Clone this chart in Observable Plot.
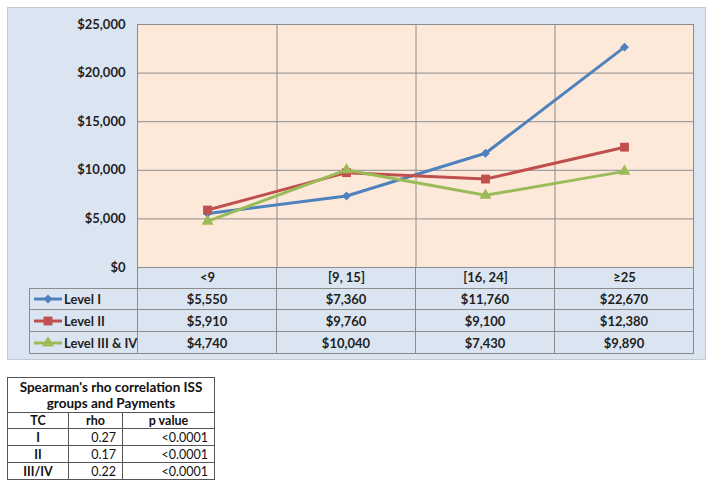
<!DOCTYPE html>
<html>
<head>
<meta charset="utf-8">
<script src="https://cdn.jsdelivr.net/npm/d3@7"></script>
<script src="https://cdn.jsdelivr.net/npm/@observablehq/plot@0.6"></script>
<style>
  html, body { margin: 0; padding: 0; background: #ffffff; }
  #wrap { position: relative; width: 714px; height: 487px; overflow: hidden; font-family: Lato, "Open Sans", sans-serif; color: #1f1f1f; }
  #box { position: absolute; left: 7px; top: 7px; width: 697px; height: 351px; background: #dbe5f1; border: 1px solid #c3cad3; }
  .cell { position: absolute; box-sizing: border-box; display: flex; align-items: center; justify-content: center; font-size: 13px; font-weight: bold; white-space: nowrap; }
  #plot { position: absolute; left: 0; top: 0; }
  .sp { position: absolute; box-sizing: border-box; display: flex; align-items: center; font-size: 12.5px; white-space: nowrap; color: #111; }
</style>
</head>
<body>
<div id="wrap">
  <div id="box"></div>
  <div id="dtable"></div>
  <div id="plot"></div>
  <div id="stable"></div>
</div>
<script>
// ---- data ----
const categories = ["<9", "[9, 15]", "[16, 24]", "≥25"];
const seriesNames = ["Level I", "Level II", "Level III & IV"];
const levelI = [5550, 7360, 11760, 22670];
const levelII = [5910, 9760, 9100, 12380];
const levelIIIIV = [4740, 10040, 7430, 9890];
const seriesColors = ["#4f81bd", "#c0504d", "#9bbb59"];
const seriesSymbols = ["diamond2", "square", "triangle"];
const yTicks = [0, 5000, 10000, 15000, 20000, 25000];

const spearmanTitle = "Spearman's rho correlation ISS groups and Payments";
const spearmanHeaders = ["TC", "rho", "p value"];
const spearmanGroups = ["I", "II", "III/IV"];
const spearmanRho = ["0.27", "0.17", "0.22"];
const spearmanP = ["<0.0001", "<0.0001", "<0.0001"];

// ---- build ----
const seriesValues = [levelI, levelII, levelIIIIV];
const rows = [];
seriesNames.forEach((s, si) => categories.forEach((c, ci) => rows.push({series: s, cat: c, value: seriesValues[si][ci]})));
const fmt = d => "$" + d3.format(",")(d);

const W = 714, H = 289, ML = 137, MR = 21, MT = 24, MB = 22;
const step = (W - ML - MR) / categories.length;
const grid = "#8c8c8c";
const rSizes = [4, 5, 4.4];

const chart = Plot.plot({
  width: W, height: H,
  marginLeft: ML, marginRight: MR, marginTop: MT, marginBottom: MB,
  style: {background: "transparent", fontFamily: "Lato, 'Open Sans', sans-serif", fontSize: "13px", fontWeight: "bold", color: "#1f1f1f", overflow: "visible"},
  x: {type: "point", domain: categories, padding: 0.5, label: null, tickSize: 0, tickPadding: 5},
  y: {domain: [0, 25000], ticks: yTicks, tickFormat: fmt, label: null, tickSize: 0, tickPadding: 12},
  color: {domain: seriesNames, range: seriesColors},
  symbol: {domain: seriesNames, range: seriesSymbols},
  marks: [
    Plot.frame({fill: "#fde9d9", stroke: null}),
    Plot.gridY(yTicks, {stroke: grid, strokeOpacity: 1}),
    Plot.ruleX(categories.slice(1), {dx: -step / 2, stroke: grid}),
    Plot.frame({stroke: grid}),
    Plot.line(rows, {x: "cat", y: "value", z: "series", stroke: "series", strokeWidth: 3}),
    ...seriesNames.map((s, i) => Plot.dot(rows, {filter: d => d.series === s, x: "cat", y: "value", symbol: "series", fill: "series", stroke: null, r: rSizes[i]}))
  ]
});
document.getElementById("plot").appendChild(chart);

// ---- data table under the plot ----
const colEdges = [29, ML, ...categories.map((c, i) => ML + step * (i + 1))];
const rowEdges = [H - MB, 288, 309, 331, 353];
const dt = document.getElementById("dtable");
const tb = "#8c8c8c";
function addCell(parent, cls, x0, x1, y0, y1, opts) {
  const d = document.createElement("div");
  d.className = cls;
  d.style.left = x0 + "px"; d.style.top = y0 + "px";
  d.style.width = (x1 - x0 + 1) + "px"; d.style.height = (y1 - y0 + 1) + "px";
  d.style.border = "1px solid " + opts.border;
  if (opts.justify) d.style.justifyContent = opts.justify;
  if (opts.pad) d.style.padding = opts.pad;
  if (opts.weight) d.style.fontWeight = opts.weight;
  if (opts.size) d.style.fontSize = opts.size;
  if (opts.html !== undefined) d.innerHTML = opts.html;
  else if (opts.text !== undefined) d.textContent = opts.text;
  parent.appendChild(d);
  return d;
}
// header row (labels come from Plot's x axis)
for (let c = 1; c < colEdges.length - 1; c++) addCell(dt, "cell", colEdges[c], colEdges[c + 1], rowEdges[0], rowEdges[1], {border: tb});
seriesNames.forEach((s, si) => {
  const y0 = rowEdges[si + 1], y1 = rowEdges[si + 2];
  const sym = d3.symbol().type({"diamond2": d3.symbolDiamond2, "square": d3.symbolSquare, "triangle": d3.symbolTriangle}[seriesSymbols[si]]).size(Math.PI * rSizes[si] * rSizes[si])();
  const sw = `<svg width="30" height="14" style="margin-right:1px;overflow:visible"><line x1="1" x2="29" y1="7" y2="7" stroke="${seriesColors[si]}" stroke-width="3"/><path d="${sym}" transform="translate(15,7)" fill="${seriesColors[si]}"/></svg>`;
  addCell(dt, "cell", colEdges[0], colEdges[1], y0, y1, {border: tb, justify: "flex-start", pad: "0 0 0 3px", html: sw + "<span>" + s + "</span>"});
  categories.forEach((c, ci) => addCell(dt, "cell", colEdges[ci + 1], colEdges[ci + 2], y0, y1, {border: tb, text: fmt(seriesValues[si][ci])}));
});

// ---- Spearman table ----
const st = document.getElementById("stable");
const sc = [7, 68, 122, 214];
const sr = [377, 412, 428, 445, 462, 479];
const sb = "#555";
const t = addCell(st, "sp", sc[0], sc[3], sr[0], sr[1], {border: sb, justify: "center", weight: "bold", size: "13.5px"});
t.style.whiteSpace = "normal"; t.style.textAlign = "center"; t.style.lineHeight = "16px"; t.style.padding = "0 4px";
t.textContent = spearmanTitle;
spearmanHeaders.forEach((h, i) => addCell(st, "sp", sc[i], sc[i + 1], sr[1], sr[2], {border: sb, justify: "center", weight: "bold", text: h}));
spearmanGroups.forEach((g, i) => {
  addCell(st, "sp", sc[0], sc[1], sr[i + 2], sr[i + 3], {border: sb, justify: "center", weight: "bold", text: g});
  addCell(st, "sp", sc[1], sc[2], sr[i + 2], sr[i + 3], {border: sb, justify: "flex-end", pad: "0 6px 0 0", text: spearmanRho[i]});
  addCell(st, "sp", sc[2], sc[3], sr[i + 2], sr[i + 3], {border: sb, justify: "flex-end", pad: "0 6px 0 0", text: spearmanP[i]});
});
</script>
</body>
</html>
